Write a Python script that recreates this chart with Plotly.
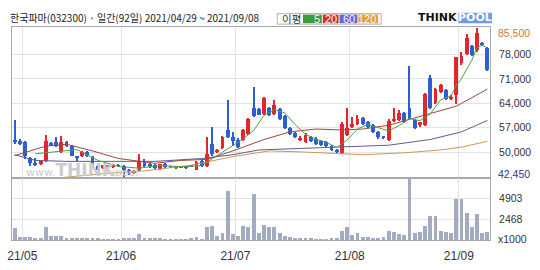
import plotly.graph_objects as go
from plotly.subplots import make_subplots

# ---------------- data ----------------
title_text = "한국파마(032300) · 일간(92일) 2021/04/29 ~ 2021/09/08"

open_ = [53600,53300,52800,48200,46900,46500,47600,52500,52800,50000,
         52800,51700,48700,49000,50000,48700,46000,45400,45400,45600,
         46200,45900,44900,44100,44900,47600,46600,46300,45200,46700,
         45700,45600,45700,45400,46000,45000,47600,46000,52300,50100,
         51200,56300,54200,53600,53600,55300,62600,62300,61000,62600,
         61000,62300,60400,56900,55500,53500,52800,54400,53900,53100,
         52800,51700,50600,49800,55000,57200,58000,59900,58500,57700,
         55800,54400,53600,59000,59300,61200,62600,59300,57700,57700,
         71300,64000,67200,67800,65300,66400,75400,78100,80300,79200,
         81200,79800]
high_ = [59300,53800,53300,48600,48200,47600,55000,53000,54200,54700,
         53200,52000,49000,50300,50300,49000,46300,46300,46300,46500,
         46500,46300,45200,44900,49500,48000,47000,46600,46700,47000,
         46000,46000,46000,46100,46300,47600,48000,54200,57200,51000,
         54700,64800,55800,54000,56600,59900,68600,62600,65700,63000,
         64800,62600,60700,57200,55800,54500,55500,54700,54200,53400,
         53100,52000,51000,58500,62600,60200,60700,60200,58800,58000,
         56100,54700,59500,62600,62000,61500,74600,59600,58600,66900,
         72000,68300,69400,68100,66400,77300,78600,83800,80600,85500,
         81600,80200]
low_ = [52200,52000,47900,46000,46000,46200,47300,51800,51500,49800,
        51500,48900,47600,48700,48700,45900,44800,45200,45100,45400,
        45600,42450,43500,43800,44600,45700,45500,45100,45000,45500,
        45400,45300,45400,45200,45600,44800,45800,45700,49000,49800,
        50800,54000,51700,51200,53300,55000,60200,60500,60500,60400,
        60700,59300,56600,55000,54000,53300,52500,52800,52000,51700,
        51400,50400,49800,49500,54700,56900,57700,57800,56900,55500,
        53900,53800,53300,58700,59000,58300,59600,56600,57300,57400,
        62300,63700,66900,64800,64800,63700,75100,77800,77600,78700,
        80400,73200]
close_ = [53100,52250,49000,46800,46500,47600,53100,52200,51700,52800,
          51700,49000,48400,50000,49000,46000,44900,46200,46200,46200,
          45900,44900,44100,44700,47400,46000,45700,45400,46500,45700,
          45600,45700,45600,46000,45800,47300,46000,49500,49500,50600,
          54200,54200,53100,51400,56300,59600,60400,60700,65600,60700,
          63400,59600,56900,55300,54200,54000,55000,53100,52300,52000,
          51700,50600,50100,58200,56900,58200,59600,58200,57200,55800,
          54200,54100,59000,59600,61200,58500,59900,56900,58500,66700,
          62600,68000,69100,65100,65900,77300,77600,82800,77900,84100,
          80700,73500]
volume_k = [1470,370,360,330,270,270,1500,430,430,540,
            300,250,220,200,220,230,200,180,170,160,
            180,250,200,190,750,300,250,200,230,180,
            150,140,140,150,200,380,150,1500,1700,450,
            810,5840,720,450,1700,1550,5460,860,1750,1500,
            1500,830,520,410,300,260,300,260,150,150,
            150,260,200,1050,1580,650,830,380,380,300,
            230,380,1050,1000,750,560,7354,830,1000,1700,
            2830,2900,1100,1000,830,4900,4900,3200,1600,3090,
            850,1000]

ma5_idx = [4,8,12,16,20,24,28,32,36,40,44,46,48,50,52,54,56,58,60,62,
           64,66,68,70,72,74,76,78,80,82,84,85,86,87,88,89,90,91]
ma5_val = [49530,50220,50720,47660,45880,45400,46200,45820,46140,49960,
           53840,56160,60520,62160,61240,57880,55080,53720,52820,51340,
           53500,56600,58020,57000,56060,57620,59640,59000,60920,64980,
           66140,69080,71000,73740,76300,79940,80620,79800]
ma20_idx = [0,6,10,15,20,27,32,37,42,48,53,58,63,67,72,80,85,91]
ma20_val = [48985,51710,52255,50348,48168,46805,47622,47900,50348,53618,
            55798,56615,56342,56615,57705,60975,63155,68060]
ma60_idx = [0,4,10,17,27,36,42,47,53,62,67,72,80,86,91]
ma60_val = [49258,47622,47350,47350,47350,48168,49258,50620,50892,51438,
            51710,51982,53618,55798,59068]
ma120_idx = [9,17,25,34,42,49,55,62,67,75,82,86,91]
ma120_val = [42700,43800,44625,46260,48712,50348,50075,49530,49258,49800,
             50620,51438,53072]

month_labels = ["21/05", "21/06", "21/07", "21/08", "21/09"]
month_start_idx = [2, 21, 43, 65, 86]
price_ticks = [50000, 57000, 64000, 71000, 78000]
price_max_label = 85500
price_min_label = 42450
vol_ticks = [2468, 4903]
ma_labels = ["5", "20", "60", "120"]

# ---------------- styles ----------------
UP = "#e3262b"
DOWN = "#2d5fd3"
VOLC = "#a3abc1"
GRID = "#e3e3e3"
BORDER = "#a8a8a8"
TXT = "#333333"
FONT = "Liberation Sans"
KFONT = "Liberation Sans Narrow, Noto Sans CJK KR"

n = len(close_)
idx = list(range(n))
fig = make_subplots(rows=2, cols=1, shared_xaxes=True, vertical_spacing=0,
                    row_heights=[158 / 223, 65 / 223])

# moving averages
for xs, ys, col in [(ma120_idx, ma120_val, "#c99a52"),
                    (ma60_idx, ma60_val, "#5f5c92"),
                    (ma20_idx, ma20_val, "#9a4a3c"),
                    (ma5_idx, ma5_val, "#4ea24a")]:
    fig.add_trace(go.Scatter(x=xs, y=ys, mode="lines",
                             line=dict(color=col, width=1), hoverinfo="skip"),
                  row=1, col=1)

colors = [UP if c >= o else DOWN for o, c in zip(open_, close_)]
# wicks
fig.add_trace(go.Bar(x=idx, y=[h - l for h, l in zip(high_, low_)], base=low_,
                     width=0.2, marker=dict(color=colors, line=dict(width=0))),
              row=1, col=1)
# bodies
body_base = [min(o, c) for o, c in zip(open_, close_)]
body_h = [max(abs(c - o), 300) for o, c in zip(open_, close_)]
fig.add_trace(go.Bar(x=idx, y=body_h, base=body_base, width=0.74,
                     marker=dict(color=colors, line=dict(width=0))),
              row=1, col=1)
# volume
fig.add_trace(go.Bar(x=idx, y=volume_k, width=0.74,
                     marker=dict(color=VOLC, line=dict(width=0))),
              row=2, col=1)

grid_pos = [m - 0.5 for m in month_start_idx]
for r in (1, 2):
    fig.update_xaxes(range=[-0.5, n - 0.5], tickvals=grid_pos, ticktext=month_labels,
                     showgrid=True, gridcolor=GRID, gridwidth=1,
                     showline=True, linecolor=BORDER, mirror=True,
                     ticks="", zeroline=False, row=r, col=1)
fig.update_xaxes(showticklabels=False, row=1, col=1)
fig.update_xaxes(showticklabels=True, tickfont=dict(family=FONT, size=12, color=TXT),
                 ticklabelstandoff=5, row=2, col=1)

fig.update_yaxes(range=[42610, 85855], side="right", tickvals=price_ticks,
                 ticktext=[f"{v:,}" for v in price_ticks],
                 tickfont=dict(family=FONT, size=10.5, color=TXT),
                 showgrid=True, gridcolor=GRID, showline=True, linecolor=BORDER,
                 mirror=True, ticks="", zeroline=False, ticklabelstandoff=6,
                 row=1, col=1)
fig.update_yaxes(range=[0, 7354], side="right", tickvals=vol_ticks,
                 ticktext=[str(v) for v in vol_ticks],
                 tickfont=dict(family=FONT, size=10.5, color=TXT),
                 showgrid=True, gridcolor=GRID, showline=True, linecolor=BORDER,
                 mirror=True, ticks="", zeroline=False, ticklabelstandoff=6,
                 row=2, col=1)

W, H = 540, 270
L, R, T, B = 7, 50, 27, 20
pw, ph = W - L - R, H - T - B


def px(x):
    return (x - L) / pw


def py(y):
    return (H - B - y) / ph


def note(x, y, text, size, color, family=FONT, xanchor="left", **kw):
    d = dict(xref="paper", yref="paper", x=px(x), y=py(y), xanchor=xanchor,
             yanchor="middle", text=text, showarrow=False, borderpad=0,
             font=dict(family=family, size=size, color=color))
    d.update(kw)
    return d


ann = []
ann.append(note(4, 17, title_text, 10, "#222222", family=KFONT))
ann.append(note(497, 33, f"{price_max_label:,}", 10.5, "#c87a36"))
ann.append(note(497, 181, f"{price_min_label:,}", 10.5, "#333399"))
ann.append(note(497, 249, "x1000", 10.5, TXT))
# watermark
ann.append(note(20, 177, "www.<b><span style='font-size:17px'>THINK</span></b>pool",
                11, "#cccccc", family="DejaVu Sans"))

shapes = []
# legend box
shapes.append(dict(type="rect", xref="paper", yref="paper", x0=px(275), x1=px(380),
                   y0=py(24), y1=py(13), line=dict(color="#b0b0b0", width=1),
                   fillcolor="white", layer="below"))
ann.append(note(289, 18.5, "이평", 10.5, TXT, family="Noto Sans CJK KR",
                xanchor="center"))
cells = [(301, 320, "#3f9b3f"), (321, 337, "#cc3434"),
         (338, 356, "#6666d6"), (357, 377, "#e3a22c")]
for lab, (x0, x1, col) in zip(ma_labels, cells):
    shapes.append(dict(type="rect", xref="paper", yref="paper", x0=px(x0), x1=px(x1),
                       y0=py(23), y1=py(14), line=dict(width=0), fillcolor=col,
                       layer="below"))
    ann.append(note(x1 - 1, 18.5, lab, 11, "#f6f6f6", xanchor="right"))
# logo
shapes.append(dict(type="rect", xref="paper", yref="paper", x0=px(458), x1=px(492),
                   y0=py(23), y1=py(12), line=dict(width=0), fillcolor="#6f9be6",
                   layer="below"))
ann.append(note(458, 17.5, "<b>THINK</b>", 11, "#111111", family="DejaVu Sans",
                xanchor="right"))
ann.append(note(475, 17.5, "<b>POOL</b>", 11, "white", family="DejaVu Sans",
                xanchor="center"))

fig.update_layout(width=W, height=H, margin=dict(l=L, r=R, t=T, b=B),
                  paper_bgcolor="white", plot_bgcolor="white", barmode="overlay",
                  bargap=0, showlegend=False, annotations=ann, shapes=shapes)

fig.write_html("out.html")
